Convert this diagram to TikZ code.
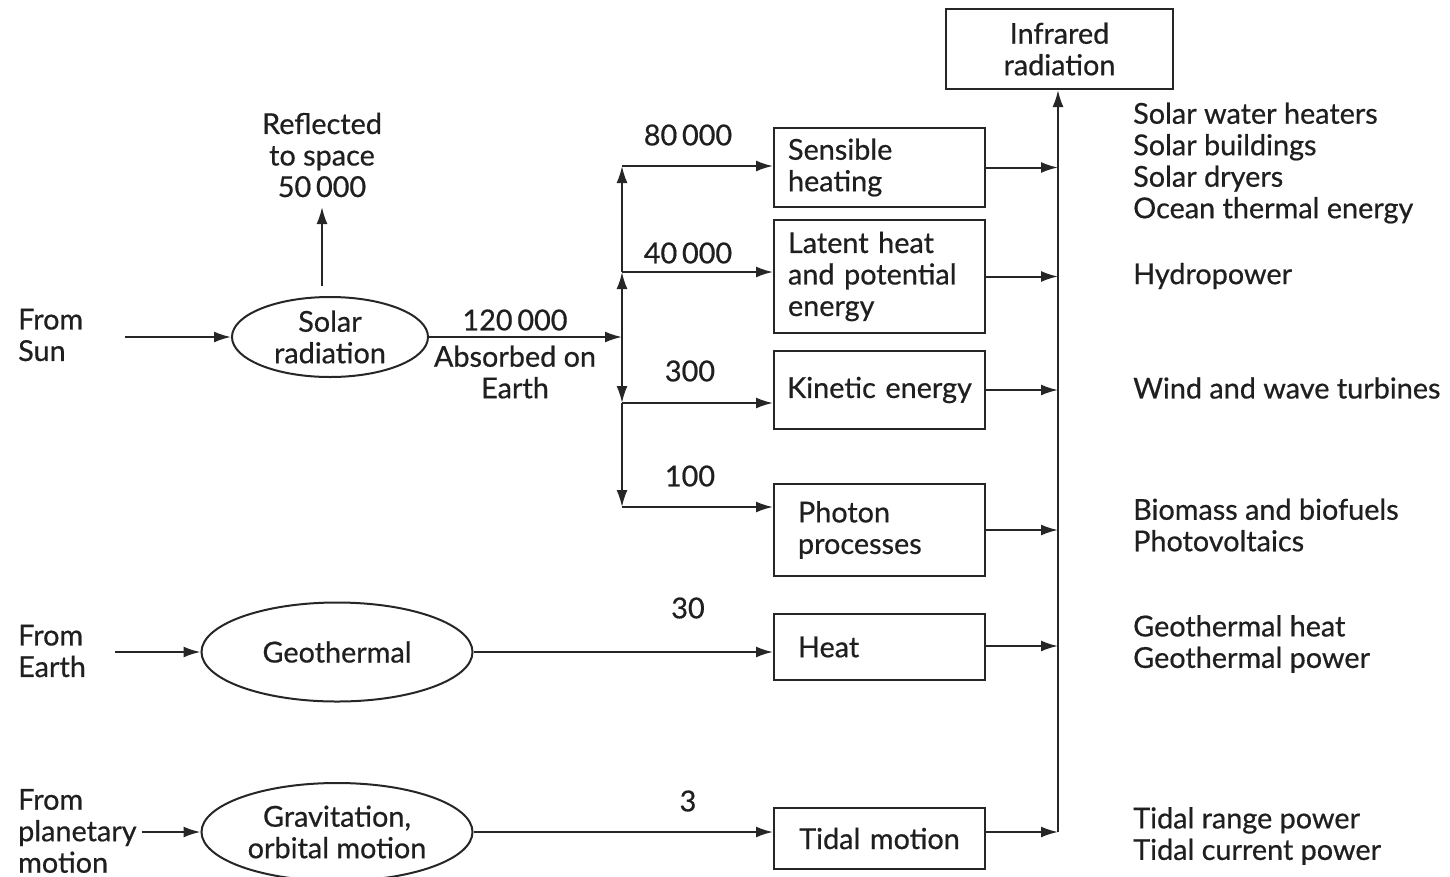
\documentclass[tikz,border=0pt]{standalone}
\usepackage{fontspec}
\setmainfont{Lato}[FakeBold=0.6]
\usetikzlibrary{arrows.meta,shapes.geometric}
\begin{document}
\begin{tikzpicture}[x=1pt,y=-1pt,
  every node/.style={font=\fontsize{28.8}{31.5}\selectfont, text=black!88},
  ln/.style={line width=2pt, draw=black!85},
  arr/.style={ln, -{Latex[length=17pt,width=11pt]}},
  box/.style={draw=black!85, line width=2pt, rectangle, minimum width=211pt, anchor=north west, inner ysep=0pt},
  boxl/.style={box, text width=183pt, inner xsep=14pt, align=left},
  boxm/.style={box, text width=163pt, inner xsep=24pt, align=left},
  boxc/.style={box, text width=190pt, inner xsep=10pt, align=center},
  oval/.style={draw=black!85, line width=2pt, ellipse, inner sep=0pt, align=center},
  lbl/.style={align=left, anchor=west, inner sep=0pt},
  num/.style={inner sep=0pt}
]
\useasboundingbox (0,0) rectangle (1450,876);

% boxes
\node[box, minimum width=227pt, minimum height=80pt, align=center] (ir) at (945,8) {Infrared\\radiation};
\node[boxl, minimum height=79pt] (sens) at (773,127) {Sensible\\heating};
\node[boxl, minimum height=113pt] (lat) at (773,219) {Latent heat\\and potential\\energy};
\node[boxc, minimum height=78pt] (kin) at (773,350) {Kinetic energy};
\node[boxm, minimum height=92pt] (pho) at (773,483) {Photon\\processes};
\node[boxm, minimum height=66pt] (heat) at (773,613) {Heat};
\node[boxc, minimum height=61pt] (tid) at (773,807) {Tidal motion};

% ellipses
\node[oval, minimum width=196pt, minimum height=80pt] (sol) at (330,337) {Solar\\radiation};
\node[oval, minimum width=271pt, minimum height=99pt] (geo) at (337,652) {Geothermal};
\node[oval, minimum width=271pt, minimum height=98pt] (grav) at (337,832) {Gravitation,\\orbital motion};

% left labels
\node[lbl] (fsun) at (18,335) {From\\Sun};
\node[lbl] (fearth) at (18,651) {From\\Earth};
\node[lbl] (fplan) at (18,831) {From\\planetary\\motion};
\node[align=center, inner sep=0pt] (refl) at (322,155) {Reflected\\to space\\50\,000};
\node[num] (n120) at (515,320) {120\,000};
\node[align=center, inner sep=0pt] (abs) at (515,372) {Absorbed on\\Earth};

% numbers
\node[num] (n80) at (688,135) {80\,000};
\node[num] (n40) at (688,253) {40\,000};
\node[num] (n300) at (690,371) {300};
\node[num] (n100) at (690,476) {100};
\node[num] (n30) at (688,608) {30};
\node[num] (n3) at (688,801) {3};

% right labels
\node[lbl] (r1) at (1133,163) {Solar water heaters\\Solar buildings\\Solar dryers\\Ocean thermal energy};
\node[lbl] (r2) at (1133,276) {Hydropower};
\node[lbl] (r3) at (1133,388) {Wind and wave turbines};
\node[lbl] (r4) at (1133,525) {Biomass and biofuels\\Photovoltaics};
\node[lbl] (r5) at (1133,644) {Geothermal heat\\Geothermal power};
\node[lbl] (r6) at (1133,836) {Tidal range power\\Tidal current power};

% coordinates
\coordinate (s0) at (125,337);
\coordinate (e0) at (115,652);
\coordinate (p0) at (142,832);
\coordinate (r0) at (322,286);
\coordinate (j0) at (622,337);
\coordinate (j1) at (622,272);
\coordinate (j2) at (622,166);
\coordinate (j3) at (622,403);
\coordinate (j4) at (622,507);
\coordinate (hin) at (773,652);
\coordinate (tin) at (773,832);
\coordinate (hout) at (984,646);
\coordinate (tout) at (984,832);
\coordinate (c0) at (1058,832);

% input arrows
\draw[arr] (s0) -- (sol.west);
\draw[arr] (e0) -- (geo.west);
\draw[arr] (p0) -- (grav.west);
\draw[arr] (r0) -- (refl.south |- 0,207);
\draw[arr] (sol.east) -- (j0);
\draw[arr] (j0) -- (j1);
\draw[arr] (j1) -- (j2);
\draw[arr] (j0) -- (j3);
\draw[arr] (j3) -- (j4);
\draw[arr] (j2) -- (j2 -| sens.west);
\draw[arr] (j1) -- (j1 -| lat.west);
\draw[arr] (j3) -- (j3 -| kin.west);
\draw[arr] (j4) -- (j4 -| pho.west);
\draw[arr] (geo.east) -- (hin);
\draw[arr] (grav.east) -- (tin);

% output arrows
\draw[arr] (sens.east) -- (sens.east -| c0);
\draw[arr] (lat.east) -- (lat.east -| c0);
\draw[arr] (kin.east) -- (kin.east -| c0);
\draw[arr] (pho.east) -- (pho.east -| c0);
\draw[arr] (hout) -- (hout -| c0);
\draw[arr] (tout) -- (c0);
\draw[arr] (c0) -- (c0 |- ir.south);
\end{tikzpicture}
\end{document}
